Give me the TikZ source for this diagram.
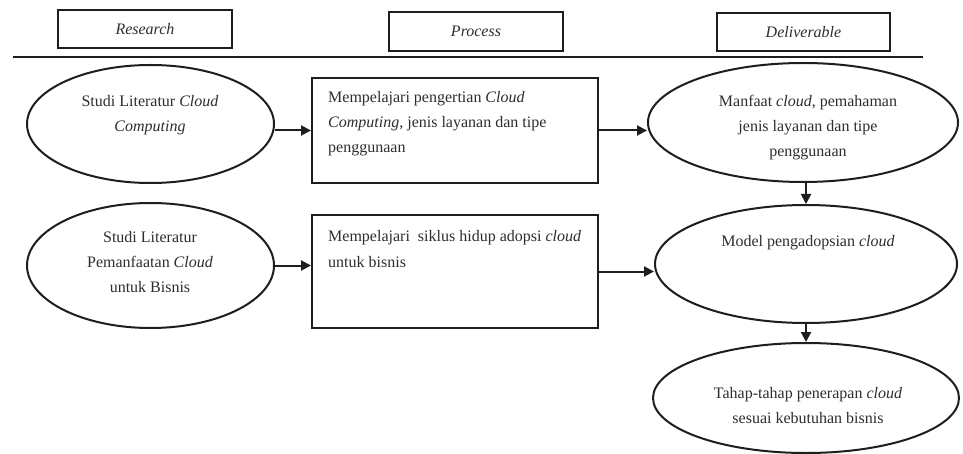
\documentclass[tikz,border=0pt]{standalone}
\usepackage{fontspec}
\setmainfont{Liberation Serif}
\usetikzlibrary{shapes.geometric,arrows.meta}
\definecolor{ink}{HTML}{1E1E1E}
\definecolor{txtc}{HTML}{2E2E2E}
\begin{document}
\begin{tikzpicture}[x=1pt,y=-1pt,
  box/.style={draw=ink,line width=2pt,rectangle,inner sep=0pt},
  oval/.style={draw=ink,line width=2pt,ellipse,inner sep=0pt},
  hdr/.style={font=\fontsize{16}{25}\selectfont\itshape,text=txtc},
  lbl/.style={font=\fontsize{16}{25}\selectfont,text=txtc,inner sep=0pt},
  conn/.style={draw=ink,line width=2pt,-{Triangle[length=10pt,width=10pt]}}]
\useasboundingbox (0,0) rectangle (963,454);
\fill[white] (0,0) rectangle (963,454);

% header
\node[box,hdr,minimum width=174pt,minimum height=38pt] (hres) at (145,29) {\raisebox{-1.5pt}{Research}};
\node[box,hdr,minimum width=174pt,minimum height=39pt] (hpro) at (476,31.5) {\raisebox{-1.5pt}{Process}};
\node[box,hdr,minimum width=173pt,minimum height=38pt] (hdel) at (803.5,32) {\raisebox{-1.5pt}{Deliverable}};
\coordinate (sepL) at (13,57);
\coordinate (sepR) at (923,57);
\draw[ink,line width=2.4pt] (sepL) -- (sepR);

% shapes
\node[oval,minimum width=247pt,minimum height=118pt] (e1) at (150.5,124) {};
\node[oval,minimum width=247pt,minimum height=125pt] (e2) at (150.5,265.5) {};
\node[box,minimum width=286pt,minimum height=105pt] (b1) at (455,130.5) {};
\node[box,minimum width=286pt,minimum height=113pt] (b2) at (455,271.5) {};
\node[oval,minimum width=310pt,minimum height=119pt] (e3) at (803,122.5) {};
\node[oval,minimum width=302pt,minimum height=118pt] (e4) at (806,264) {};
\node[oval,minimum width=306pt,minimum height=110pt] (e5) at (806,398) {};

% texts
\node[lbl,anchor=base] (t1) at (150,107) {\begin{tabular}[t]{@{}c@{}}Studi Literatur \textit{Cloud}\\ \textit{Computing}\end{tabular}};
\node[lbl,anchor=base] (t2) at (150,243) {\begin{tabular}[t]{@{}c@{}}Studi Literatur\\ Pemanfaatan \textit{Cloud}\\ untuk Bisnis\end{tabular}};
\node[lbl,anchor=base west] (t3) at (328,103) {\begin{tabular}[t]{@{}l@{}}Mempelajari pengertian \textit{Cloud}\\ \textit{Computing}, jenis layanan dan tipe\\ penggunaan\end{tabular}};
\node[lbl,anchor=base west] (t4) at (328,242) {\begin{tabular}[t]{@{}l@{}}Mempelajari\ \ siklus hidup adopsi \textit{cloud}\\ untuk bisnis\end{tabular}};
\node[lbl,anchor=base] (t5) at (808,107) {\begin{tabular}[t]{@{}c@{}}Manfaat \textit{cloud}, pemahaman\\ jenis layanan dan tipe\\ penggunaan\end{tabular}};
\node[lbl,anchor=base] (t6) at (808,247) {Model pengadopsian \textit{cloud}};
\node[lbl,anchor=base] (t7) at (808,398) {\begin{tabular}[t]{@{}c@{}}Tahap-tahap penerapan \textit{cloud}\\ sesuai kebutuhan bisnis\end{tabular}};

% connectors
\draw[conn] (b1.west -| e1.east) -- (b1.west);
\draw[conn] (e2.east) -- (e2.east -| b2.west);
\draw[conn] (b1.east) -- (b1.east -| e3.west);
\draw[conn] (b2.east) -- (b2.east -| e4.west);
\draw[conn] (e4.north |- e3.south) -- (e4.north);
\draw[conn] (e4.south) -- (e5.north);
\end{tikzpicture}
\end{document}
